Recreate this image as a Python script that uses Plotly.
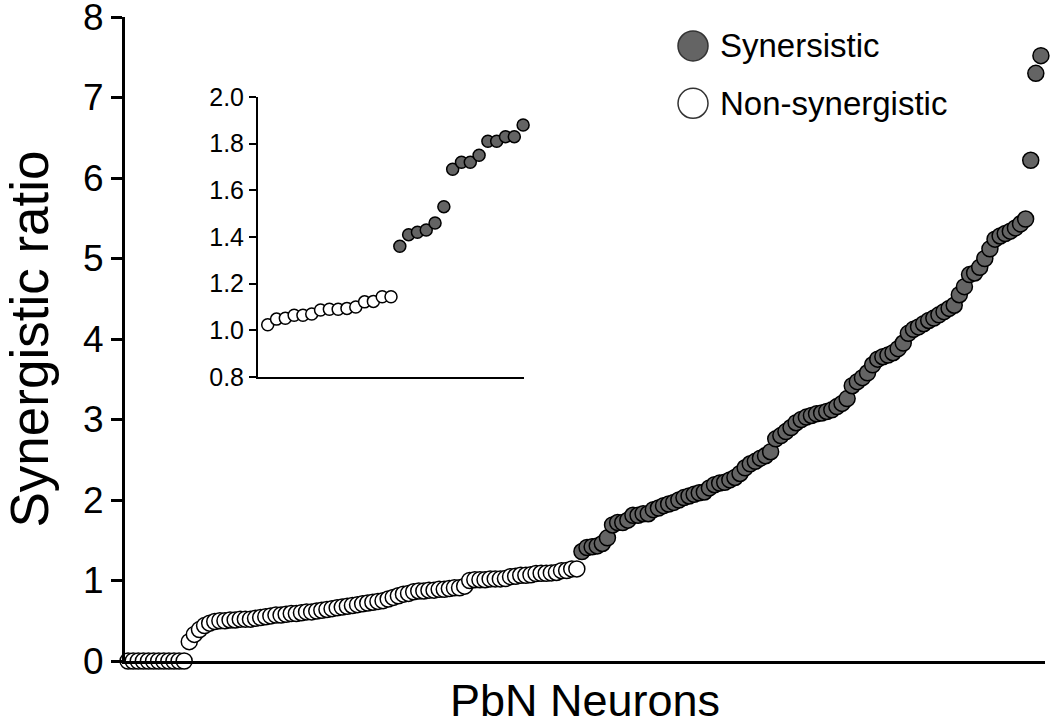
import plotly.graph_objects as go

# synergistic ratio per PbN neuron, sorted ascending
non_syn = [
    0, 0, 0, 0, 0, 0, 0, 0, 0, 0, 0, 0,
    0.24, 0.33, 0.39, 0.44, 0.47, 0.49, 0.50, 0.50, 0.51, 0.51,
    0.52, 0.52, 0.52, 0.53, 0.54, 0.55, 0.56, 0.57, 0.57, 0.58,
    0.59, 0.59, 0.60, 0.61, 0.61, 0.62, 0.63, 0.64, 0.65, 0.66,
    0.67, 0.68, 0.69, 0.70, 0.71, 0.72, 0.73, 0.74, 0.75, 0.77,
    0.79, 0.81, 0.83, 0.84, 0.86, 0.87, 0.87, 0.88, 0.88, 0.89,
    0.89, 0.90, 0.91, 0.91, 0.93, 1.00, 1.01, 1.01, 1.01, 1.02,
    1.02, 1.02,
    1.024, 1.048, 1.052, 1.065, 1.065, 1.07, 1.087, 1.09, 1.09,
    1.094, 1.10, 1.122, 1.124, 1.144, 1.144,
]
syn = [
    1.36, 1.41, 1.42, 1.43, 1.46, 1.53, 1.69, 1.72, 1.72, 1.75,
    1.81, 1.81, 1.83, 1.83, 1.88,
    1.90, 1.93, 1.95, 1.97, 2.00, 2.03, 2.05, 2.07, 2.09, 2.10,
    2.15, 2.19, 2.21, 2.22, 2.25, 2.28, 2.33, 2.40, 2.45, 2.48,
    2.52, 2.55, 2.60, 2.76, 2.80, 2.85, 2.90, 2.96, 3.00, 3.03,
    3.05, 3.07, 3.08, 3.10, 3.12, 3.16, 3.20, 3.26, 3.42, 3.47,
    3.52, 3.58, 3.68, 3.75, 3.78, 3.80, 3.83, 3.88, 3.95, 4.07,
    4.12, 4.15, 4.19, 4.23, 4.26, 4.30, 4.34, 4.38, 4.42, 4.55,
    4.65, 4.80, 4.82, 4.89, 5.00, 5.12, 5.24, 5.28, 5.31, 5.34,
    5.38, 5.43, 5.49, 6.22, 7.30, 7.52,
]
INSET_N = 15  # neurons each side of the boundary shown in the inset

FONT = "Liberation Sans, Arial, sans-serif"
GREY = "#646464"

n_non = len(non_syn)
x_non = list(range(n_non))
x_syn = list(range(n_non, n_non + len(syn)))

inset_non = non_syn[-INSET_N:]
inset_syn = syn[:INSET_N]
xi_non = list(range(INSET_N))
xi_syn = list(range(INSET_N, 2 * INSET_N))


def _marker(fill, size):
    return dict(size=size, color=fill, line=dict(color="black", width=1.5))


fig = go.Figure()
fig.add_trace(go.Scatter(x=x_non, y=non_syn, mode="markers", name="Non-synergistic",
                         marker=_marker("white", 16), cliponaxis=False))
fig.add_trace(go.Scatter(x=x_syn, y=syn, mode="markers", name="Synersistic",
                         marker=_marker(GREY, 16), cliponaxis=False))
fig.add_trace(go.Scatter(x=xi_non, y=inset_non, mode="markers", xaxis="x2", yaxis="y2",
                         marker=_marker("white", 12), cliponaxis=False, showlegend=False))
fig.add_trace(go.Scatter(x=xi_syn, y=inset_syn, mode="markers", xaxis="x2", yaxis="y2",
                         marker=_marker(GREY, 12), cliponaxis=False, showlegend=False))

n_all = n_non + len(syn)
axis_common = dict(showline=True, linecolor="black", showgrid=False, zeroline=False,
                   automargin=False)

fig.update_layout(
    width=1050, height=726,
    margin=dict(l=125, r=5, t=17, b=65),
    paper_bgcolor="white", plot_bgcolor="white",
    showlegend=False,
    font=dict(family=FONT, color="black"),
    xaxis=dict(**axis_common, linewidth=3, range=[-0.6, n_all - 1 + 0.8],
               showticklabels=False, ticks="",
               title=dict(text="PbN Neurons", font=dict(size=45), standoff=27)),
    yaxis=dict(**axis_common, linewidth=3, range=[0, 8], dtick=1,
               ticks="outside", ticklen=11, tickwidth=3, tickcolor="black",
               tickfont=dict(size=37), ticklabeloverflow="allow",
               title=dict(text="Synergistic ratio", font=dict(size=53), standoff=55)),
    xaxis2=dict(**axis_common, linewidth=2, domain=[0.1446, 0.4337], anchor="y2",
                range=[-1.1, 2 * INSET_N - 1 + 0.1], showticklabels=False, ticks=""),
    yaxis2=dict(**axis_common, linewidth=2, domain=[0.441, 0.8758], anchor="x2",
                range=[0.8, 2.0], dtick=0.2, tickformat=".1f",
                ticks="outside", ticklen=7, tickwidth=2, tickcolor="black",
                tickfont=dict(size=25)),
)

# hand-drawn legend with large circles, as in the original figure
legend_items = [("Synersistic", GREY, 0.955), ("Non-synergistic", "white", 0.866)]
for label, fill, ypos in legend_items:
    fig.add_shape(type="circle", xref="paper", yref="paper",
                  xsizemode="pixel", ysizemode="pixel",
                  xanchor=0.6174, yanchor=ypos, x0=-15, x1=15, y0=-15, y1=15,
                  fillcolor=fill, line=dict(color="#333333", width=1.5))
    fig.add_annotation(x=0.6446, y=ypos, xref="paper", yref="paper",
                       xanchor="left", yanchor="middle", showarrow=False,
                       text=label, font=dict(size=33))

# drop the browser's default body margin so the figure fills the window
fig.write_html("out.html", config={"displayModeBar": False},
               post_script="document.body.style.margin = '0';")
